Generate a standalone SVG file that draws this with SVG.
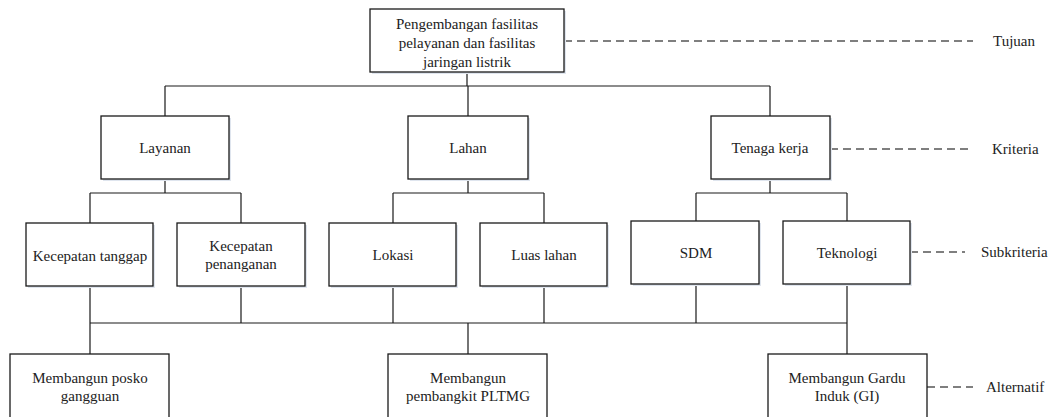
<svg xmlns="http://www.w3.org/2000/svg" width="1054" height="417" viewBox="0 0 1054 417">
<defs>
<style>
.box{fill:#fff;stroke:#1a1a1a;stroke-width:1.3}
.sh{fill:#dfe5ee;stroke:none}
.ln{stroke:#1a1a1a;stroke-width:1.2;fill:none}
.dash{stroke:#555;stroke-width:1.3;stroke-dasharray:8 5;fill:none}
.t{font-family:'Liberation Serif','Times New Roman','DejaVu Serif',serif;font-size:15px;fill:#222}
.c{text-anchor:middle}
</style>
</defs>
<rect width="1054" height="417" fill="#fff"/>
<g id="connectors">
<path class="ln" d="M467,72V86M165,86H770M165,86V116M468,86V116M770,86V116"/>
<path class="ln" d="M165,179V193M90,193H241M90,193V223M241,193V223"/>
<path class="ln" d="M468,179V193M393,193H544M393,193V223M544,193V223"/>
<path class="ln" d="M770,179V193M696,193H847M696,193V221M847,193V221"/>
<path class="ln" d="M90,286V354M241,286V323M393,286V323M544,286V323M696,284V323M847,284V354M90,323H847M468,323V354"/>
<path class="dash" d="M564,41H973M830,149H973M910,252H965M927,387H973"/>
</g>
<g font-family="Liberation Serif, Times New Roman, DejaVu Serif, serif" font-size="15" fill="#222">
<g id="tujuan">
<rect class="sh" x="372" y="11" width="194" height="63"/>
<rect class="box" x="370" y="9" width="194" height="63"/>
<text class="t c" x="467" y="29">Pengembangan fasilitas</text>
<text class="t c" x="467" y="48">pelayanan dan fasilitas</text>
<text class="t c" x="467" y="67">jaringan listrik</text>
</g>
<g id="layanan">
<rect class="sh" x="103" y="118" width="128" height="63"/>
<rect class="box" x="101" y="116" width="128" height="63"/>
<text class="t c" x="165" y="153">Layanan</text>
</g>
<g id="lahan">
<rect class="sh" x="410" y="118" width="120" height="63"/>
<rect class="box" x="408" y="116" width="120" height="63"/>
<text class="t c" x="468" y="153">Lahan</text>
</g>
<g id="tenaga-kerja">
<rect class="sh" x="713" y="118" width="119" height="63"/>
<rect class="box" x="711" y="116" width="119" height="63"/>
<text class="t c" x="770" y="153">Tenaga kerja</text>
</g>
<g id="kecepatan-tanggap">
<rect class="sh" x="28" y="225" width="127" height="63"/>
<rect class="box" x="26" y="223" width="127" height="63"/>
<text class="t c" x="90" y="261">Kecepatan tanggap</text>
</g>
<g id="kecepatan-penanganan">
<rect class="sh" x="179" y="225" width="128" height="63"/>
<rect class="box" x="177" y="223" width="128" height="63"/>
<text class="t c" x="241" y="251">Kecepatan</text>
<text class="t c" x="241" y="269">penanganan</text>
</g>
<g id="lokasi">
<rect class="sh" x="331" y="225" width="127" height="63"/>
<rect class="box" x="329" y="223" width="127" height="63"/>
<text class="t c" x="393" y="260">Lokasi</text>
</g>
<g id="luas-lahan">
<rect class="sh" x="482" y="225" width="127" height="63"/>
<rect class="box" x="480" y="223" width="127" height="63"/>
<text class="t c" x="544" y="260">Luas lahan</text>
</g>
<g id="sdm">
<rect class="sh" x="633" y="223" width="128" height="63"/>
<rect class="box" x="631" y="221" width="128" height="63"/>
<text class="t c" x="696" y="258">SDM</text>
</g>
<g id="teknologi">
<rect class="sh" x="785" y="223" width="127" height="63"/>
<rect class="box" x="783" y="221" width="127" height="63"/>
<text class="t c" x="847" y="258">Teknologi</text>
</g>
<g id="posko">
<rect class="box" x="10" y="354" width="159" height="70"/>
<text class="t c" x="90" y="383">Membangun posko</text>
<text class="t c" x="90" y="401">gangguan</text>
</g>
<g id="pltmg">
<rect class="box" x="388" y="354" width="159" height="70"/>
<text class="t c" x="468" y="383">Membangun</text>
<text class="t c" x="468" y="401">pembangkit PLTMG</text>
</g>
<g id="gardu-induk">
<rect class="box" x="768" y="354" width="159" height="70"/>
<text class="t c" x="847" y="383">Membangun Gardu</text>
<text class="t c" x="847" y="401">Induk (GI)</text>
</g>
<g id="level-labels">
<text class="t" x="993" y="46">Tujuan</text>
<text class="t" x="992" y="154">Kriteria</text>
<text class="t" x="981" y="257">Subkriteria</text>
<text class="t" x="986" y="392">Alternatif</text>
</g>
</g>
</svg>
